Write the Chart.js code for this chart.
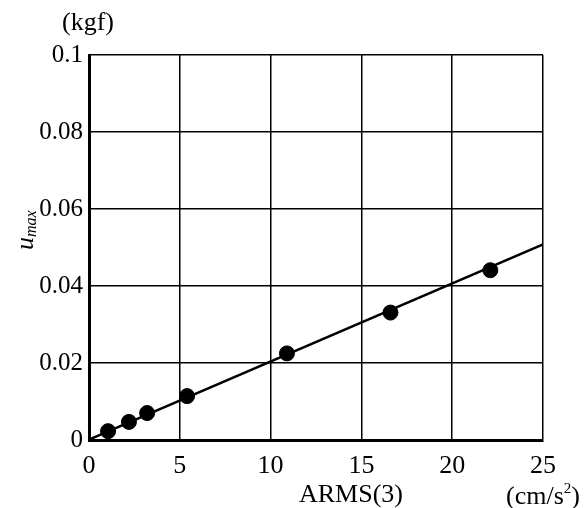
<!DOCTYPE html>
<html>
<head>
<meta charset="utf-8">
<script src="https://cdn.jsdelivr.net/npm/chart.js@4.4.0/dist/chart.umd.min.js"></script>
<style>
  html, body { margin: 0; padding: 0; background: #fff; }
  #wrap { width: 586px; height: 508px; }
</style>
</head>
<body>
<div id="wrap"><canvas id="umax-chart" width="586" height="508"></canvas></div>
<script>
(function () {
    "use strict";

    // measured points: ARMS(3) [cm/s^2] vs u_max [kgf]
    var armsValues = [1.05, 2.2, 3.2, 5.4, 10.9, 16.6, 22.1];
    var umaxValues = [0.0023, 0.0047, 0.007, 0.0114, 0.0225, 0.0331, 0.0441];

    // fitted straight line, ends only
    var fitX = [0, 25];
    var fitY = [0.0001, 0.0508];

    var xTicks = [0, 5, 10, 15, 20, 25];
    var yTicks = [0, 0.02, 0.04, 0.06, 0.08, 0.1];

    var serif = "'Liberation Serif', 'DejaVu Serif', serif";

    var points = armsValues.map(function (x, i) { return { x: x, y: umaxValues[i] }; });
    var fitLine = fitX.map(function (x, i) { return { x: x, y: fitY[i] }; });

    var labelsPlugin = {
        id: "extraLabels",
        afterDraw: function (chart) {
            var ctx = chart.ctx;
            var area = chart.chartArea;
            ctx.save();
            ctx.fillStyle = "#000";
            ctx.textBaseline = "middle";

            ctx.font = "26px " + serif;
            ctx.textAlign = "center";
            ctx.fillText("(kgf)", area.left - 1, 23);

            ctx.fillText("ARMS(3)", area.left + 262, 495);

            // (cm/s²) with superscript
            ctx.textAlign = "left";
            var x0 = area.right - 37;
            ctx.fillText("(cm/s", x0, 497);
            var w = ctx.measureText("(cm/s").width;
            ctx.font = "15px " + serif;
            ctx.fillText("2", x0 + w, 489);
            var w2 = ctx.measureText("2").width;
            ctx.font = "26px " + serif;
            ctx.fillText(")", x0 + w + w2, 497);

            // rotated u_max
            ctx.translate(26, 238);
            ctx.rotate(-Math.PI / 2);
            ctx.textAlign = "left";
            ctx.font = "italic 26px " + serif;
            ctx.fillText("u", -12, 0);
            var uw = ctx.measureText("u").width;
            ctx.font = "italic 16px " + serif;
            ctx.fillText("max", -12 + uw, 6);
            ctx.restore();
        }
    };

    var canvas = document.getElementById("umax-chart");
    new Chart(canvas.getContext("2d"), {
        type: "scatter",
        data: {
            datasets: [
                {
                    label: "fit",
                    data: fitLine,
                    showLine: true,
                    borderColor: "#000",
                    borderWidth: 2.5,
                    pointRadius: 0,
                    fill: false
                },
                {
                    label: "measured",
                    data: points,
                    backgroundColor: "#000",
                    borderColor: "#000",
                    pointRadius: 7.5,
                    pointHoverRadius: 7.5
                }
            ]
        },
        options: {
            responsive: false,
            animation: false,
            layout: { padding: { top: 55, right: 43, bottom: 0, left: 0 } },
            plugins: {
                legend: { display: false },
                tooltip: { enabled: false }
            },
            scales: {
                x: {
                    type: "linear",
                    min: 0,
                    max: 25,
                    afterBuildTicks: function (scale) {
                        scale.ticks = xTicks.map(function (v) { return { value: v }; });
                    },
                    afterFit: function (scale) { scale.height = 68; },
                    grid: { color: "#000", lineWidth: 1.5, drawTicks: false },
                    border: { color: "#000", width: 3 },
                    ticks: {
                        color: "#000",
                        padding: 11,
                        maxRotation: 0,
                        font: { family: serif, size: 26 }
                    }
                },
                y: {
                    type: "linear",
                    min: 0,
                    max: 0.1,
                    afterBuildTicks: function (scale) {
                        scale.ticks = yTicks.map(function (v) { return { value: v }; });
                    },
                    afterFit: function (scale) { scale.width = 89; },
                    grid: { color: "#000", lineWidth: 1.5, drawTicks: false },
                    border: { color: "#000", width: 3 },
                    ticks: {
                        color: "#000",
                        padding: 6,
                        font: { family: serif, size: 25 },
                        callback: function (v) {
                            return v === 0 ? "0" : String(+v.toFixed(2));
                        }
                    }
                }
            }
        },
        plugins: [labelsPlugin]
    });
})();
</script>
</body>
</html>
